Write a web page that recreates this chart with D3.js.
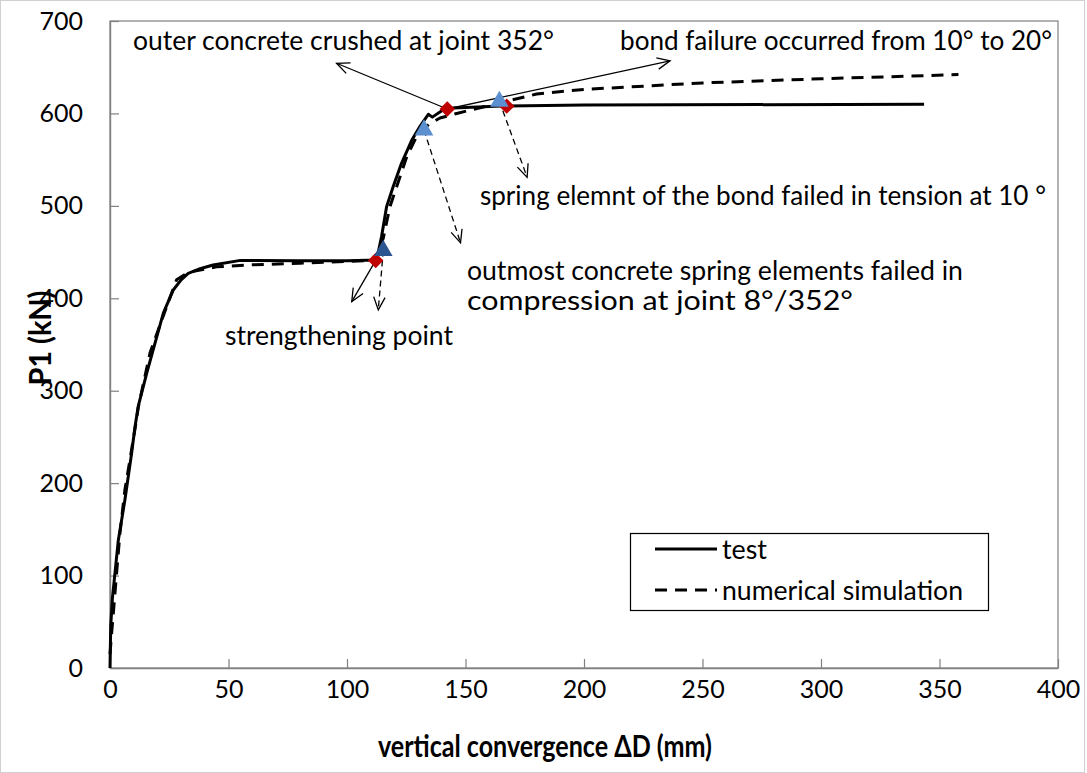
<!DOCTYPE html>
<html><head><meta charset="utf-8">
<script src="https://cdn.jsdelivr.net/npm/d3@7"></script>
<style>
body{margin:0;background:#fff;}
text{font-family:Lato,"Open Sans",sans-serif;fill:#000;}
</style></head>
<body>
<svg id="chart" width="1087" height="773"></svg>
<script>
// ---------- data ----------
const xTicks = [0,50,100,150,200,250,300,350,400];
const yTicks = [0,100,200,300,400,500,600,700];

const testX = [0,0.3,1,3.5,6.3,9.1,10.5,11.9,15.5,22.5,26.7,30,33,38,43.5,55,80,100,112.5,114.6,116.7,119.5,123,127.3,130.8,134.3,136,140,142.3,150,165,200,343.5];
const testY = [0,45,75,138,182,232,260,283,319,384,409,420,427,432,436,441,440.5,440.5,441.5,467,499,521,546,571,586,599,596,603,605.6,606.5,608,609,610];

const numX = [0,0.7,1.4,2.8,4.2,6.3,8.4,10.5,12,16.9,23.9,28.1,33,45,57.7,80,100,112,115.3,118.1,125.2,130.1,135,139.2,146.3,157.5,163.8,180,200,250,300,358];
const numY = [15,38,59,103,146,193,225,258,283,341,391,420,428,434,436,438,440,441,465,499,553,579,589,595,600,607,611,621,626,633,637.5,642];

const diamondX = [112.1,142.3,167.4];
const diamondY = [441,604.8,607.9];
const triX = [115.3,132.5,164.3];
const triY = [451.6,582,613];
const triColor = ["#2B5690","#5B8FD0","#5B8FD0"];

const seriesNames = ["test","numerical simulation"];

// annotation arrows: start (data) -> tip (data)
const arrowFromX = [142.3,142.3,164.3,132.5,112.1,115.3];
const arrowFromY = [604.8,604.8,613,582,441,451.6];
const arrowToX   = [95.6,236.3,176,147.9,102,113.2];
const arrowToY   = [654.3,656.9,531,460,396.4,387.5];
const arrowDashed= [false,false,true,true,false,true];

const annTexts = ["outer concrete crushed at joint 352°","bond failure occurred from 10° to 20°",
  "spring elemnt of the bond failed in tension at 10 °","outmost concrete spring elements failed in",
  "compression at joint 8°/352°","strengthening point"];
const annX = [9.7,215.2,156.1,150.6,150.6,48.5];
const annY = [679.4,679.4,511.7,430.6,398.2,360];
const annW = [421,432,566,496,386,228];

// ---------- layout ----------
const svg = d3.select("#chart");
const x = d3.scaleLinear().domain([0,400]).range([110,1058]);
const y = d3.scaleLinear().domain([0,700]).range([668,21]);

function fit(sel, w){
  sel.attr("textLength", w).attr("lengthAdjust","spacingAndGlyphs");
}

// outer frame
svg.append("rect").attr("x",0.5).attr("y",0.5).attr("width",1084).attr("height",772)
  .attr("fill","none").attr("stroke","#d0d0d0");

// plot frame
svg.append("rect").attr("x",x(0)).attr("y",y(700)).attr("width",x(400)-x(0)).attr("height",y(0)-y(700))
  .attr("fill","none").attr("stroke","#808080").attr("stroke-width",1.2);

// axes
const xa = svg.append("g").attr("transform",`translate(0,${y(0)})`)
  .call(d3.axisBottom(x).tickValues(xTicks).tickSizeInner(-9).tickSizeOuter(0).tickPadding(12).tickFormat(d3.format("d")));
const ya = svg.append("g").attr("transform",`translate(${x(0)},0)`)
  .call(d3.axisLeft(y).tickValues(yTicks).tickSizeInner(-9).tickSizeOuter(0).tickPadding(27).tickFormat(d3.format("d")));
[xa,ya].forEach(a=>{
  a.select(".domain").attr("stroke","#808080").attr("stroke-width",1.4);
  a.selectAll(".tick line").attr("stroke","#808080").attr("stroke-width",1.2);
  a.selectAll("text").attr("font-size",25).attr("font-family","Lato, sans-serif").attr("fill","#000");
});
ya.selectAll("text").attr("font-family","'DejaVu Sans', sans-serif").attr("font-size",25);

// axis titles
const xt = svg.append("text").attr("x",545).attr("y",745).attr("text-anchor","middle")
  .attr("dominant-baseline","central").attr("font-weight","bold").attr("font-size",31)
  .text("vertical convergence ΔD (mm)");
fit(xt,334);
const yt = svg.append("text").attr("transform","translate(39,338) rotate(-90)").attr("text-anchor","middle")
  .attr("dominant-baseline","central").attr("font-weight","bold").attr("font-size",30).text("P1 (kN)");
fit(yt,95);

// curves
const line = d3.line().x(d=>x(d[0])).y(d=>y(d[1]));
const testData = testX.map((v,i)=>[v,testY[i]]);
const numData = numX.map((v,i)=>[v,numY[i]]);
svg.append("path").datum(testData).attr("d",line).attr("fill","none").attr("stroke","#000")
  .attr("stroke-width",3).attr("stroke-linejoin","round");
svg.append("path").datum(numData).attr("d",line).attr("fill","none").attr("stroke","#000")
  .attr("stroke-width",3).attr("stroke-dasharray","12,8").attr("stroke-linejoin","round");

// arrows
function arrow(x1,y1,x2,y2,dashed){
  const g = svg.append("g");
  g.append("line").attr("x1",x1).attr("y1",y1).attr("x2",x2).attr("y2",y2)
    .attr("stroke","#000").attr("stroke-width",1.3).attr("stroke-dasharray",dashed?"6,4":null);
  const a = Math.atan2(y2-y1,x2-x1), L=14, h=0.42;
  const p1=[x2-L*Math.cos(a-h),y2-L*Math.sin(a-h)], p2=[x2-L*Math.cos(a+h),y2-L*Math.sin(a+h)];
  g.append("path").attr("d",`M${p1}L${x2},${y2}L${p2}`).attr("fill","none").attr("stroke","#000").attr("stroke-width",1.3);
}
arrowFromX.forEach((v,i)=>arrow(x(v),y(arrowFromY[i]),x(arrowToX[i]),y(arrowToY[i]),arrowDashed[i]));

// markers
diamondX.forEach((v,i)=>{
  svg.append("path").attr("d",d3.symbol(d3.symbolSquare,120)()).attr("fill","#C00000")
    .attr("transform",`translate(${x(v)},${y(diamondY[i])}) rotate(45)`);
});
triX.forEach((v,i)=>{
  svg.append("path").attr("d",d3.symbol(d3.symbolTriangle,150)()).attr("fill",triColor[i])
    .attr("transform",`translate(${x(v)},${y(triY[i])})`);
});

// annotation texts
annTexts.forEach((t,i)=>{
  const s = svg.append("text").attr("x",x(annX[i])).attr("y",y(annY[i])).attr("dominant-baseline","central")
    .attr("font-size",26).text(t);
  fit(s,annW[i]);
});

// legend
const lg = svg.append("g");
lg.append("rect").attr("x",630.5).attr("y",533.5).attr("width",358).attr("height",77)
  .attr("fill","#fff").attr("stroke","#000").attr("stroke-width",1.2);
const ly = [549,590];
seriesNames.forEach((n,i)=>{
  lg.append("line").attr("x1",655).attr("x2",717).attr("y1",ly[i]).attr("y2",ly[i])
    .attr("stroke","#000").attr("stroke-width",3).attr("stroke-dasharray",i?"12,8":null);
  const s = lg.append("text").attr("x",722).attr("y",ly[i]).attr("dominant-baseline","central")
    .attr("font-size",26).text(n);
  fit(s, i?241:45);
});
</script>
</body></html>
